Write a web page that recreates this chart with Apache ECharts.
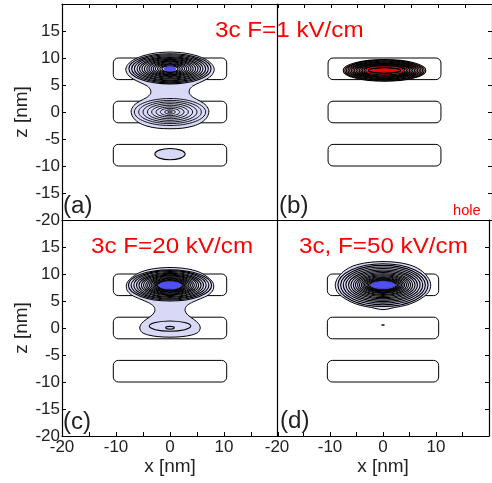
<!DOCTYPE html>
<html>
<head>
<meta charset="utf-8">
<script src="https://cdn.jsdelivr.net/npm/echarts@6/dist/echarts.min.js"></script>
<style>
html,body{margin:0;padding:0;background:#fff;}
#main{width:492px;height:483px;}
</style>
</head>
<body>
<div id="main"></div>
<script>
var FONT = '"Liberation Sans", Arial, Helvetica, sans-serif';

// 量子点 (x 范围, z 范围)
var dotX = [-10.5, 10.5];
var dotZ = [[6, 10], [-2, 2], [-10, -6]];

// 刻度标签
var xLabels = [-20, -10, 0, 10];
var zLabels = [15, 10, 5, 0, -5, -10, -15, -20];

var panelTitles = ['3c F=1 kV/cm', '3c F=20 kV/cm', '3c, F=50 kV/cm'];
var panelTags = ['(a)', '(b)', '(c)', '(d)'];

// 外层等值线 (右半边, 从上到下)
var envA = [[0,11.1],[2.8,10.9],[5.0,10.4],[6.7,9.7],[7.8,8.8],[8.2,7.9],[7.8,6.9],[6.8,6.1],[5.4,5.4],[4.2,4.8],[3.6,4.1],[3.6,3.4],[4.3,2.7],[5.6,2.0],[6.7,1.2],[7.2,0.2],[6.9,-0.9],[5.9,-1.9],[4.3,-2.6],[2.3,-3.0],[0,-3.1]];
var envC = [[0,11.2],[2.9,11.0],[5.3,10.4],[7.0,9.4],[8.0,8.3],[8.0,7.1],[7.1,6.1],[5.6,5.4],[4.0,4.7],[3.0,4.0],[2.8,3.2],[3.3,2.4],[4.4,1.6],[5.3,0.8],[5.6,0.0],[5.2,-0.8],[4.0,-1.3],[2.2,-1.6],[0,-1.7]];
var envD = [[0,12.3],[3.0,12.1],[5.6,11.5],[7.4,10.5],[8.6,9.2],[9.0,8.0],[8.7,6.8],[7.7,5.8],[6.2,4.9],[4.3,4.2],[2.2,3.8],[0.9,3.5],[0,3.4]];

// 内层等值线 (半轴 rx, rz)
var aTopRx = [7.6, 7.1, 6.6, 6.1, 5.65, 5.2, 4.75, 4.3, 3.9, 3.5, 3.1, 2.7, 2.3, 1.9, 1.5, 1.1];
var aTopRz = [2.8, 2.6, 2.42, 2.24, 2.07, 1.9, 1.74, 1.58, 1.43, 1.28, 1.13, 0.98, 0.84, 0.7, 0.55, 0.4];
var aMidRx = [6.6, 5.8, 5.0, 4.2, 3.4, 2.6, 1.8, 1.0, 0.45];
var aMidRz = [2.5, 2.15, 1.85, 1.55, 1.25, 0.95, 0.68, 0.4, 0.15];
var bRx = [7.7, 7.4, 7.1, 6.8, 6.5, 6.2, 5.9, 5.6, 5.3, 5.0, 4.7, 4.4, 4.1, 3.8, 3.5, 3.3, 3.0, 2.7, 2.4];
var bRz = [2.0, 1.9, 1.8, 1.7, 1.61, 1.52, 1.43, 1.34, 1.25, 1.16, 1.07, 0.98, 0.89, 0.8, 0.71, 0.58, 0.5, 0.42, 0.3];
var bKind = [2, 2, 2, 2, 2, 2, 2, 2, 2, 2, 2, 2, 2, 2, 2, 3, 2, 2, 4];
var cTopRx = [7.7, 7.2, 6.7, 6.2, 5.75, 5.3, 4.9, 4.5, 4.15, 3.8, 3.5, 3.2, 2.95, 2.7, 2.5, 2.3, 2.1];
var cTopRz = [2.9, 2.72, 2.55, 2.38, 2.22, 2.06, 1.9, 1.75, 1.6, 1.46, 1.32, 1.2, 1.08, 0.96, 0.86, 0.78, 0.7];
var dRx = [8.5, 8.0, 7.5, 7.0, 6.5, 6.05, 5.6, 5.2, 4.8, 4.45, 4.1, 3.8, 3.5, 3.25, 3.0, 2.75, 2.5, 2.25];
var dRz = [3.95, 3.65, 3.35, 3.07, 2.8, 2.55, 2.32, 2.1, 1.9, 1.72, 1.55, 1.4, 1.26, 1.13, 1.0, 0.88, 0.76, 0.65];

// 0 淡紫 1 蓝心 2 粉 3 红环 4 红心 5 黑点 6 淡紫细线
var ringStyles = [
    ['#d9d9f7', '#000', 1.1],
    ['#5050f6', '#3c3cd0', 0.8],
    ['#f3b3b3', '#000', 1.1],
    ['#f3b3b3', '#ff0000', 1.4],
    ['#ff0000', '#cc0000', 0.8],
    ['#000', '#000', 0.5],
    ['#d9d9f7', '#000', 0.9]
];

function rings(cx, cz, rxs, rzs, kind, lastKind) {
    var out = [];
    for (var i = 0; i < rxs.length; i++) {
        var k = Array.isArray(kind) ? kind[i] : (i === rxs.length - 1 ? lastKind : kind);
        out.push([cx, cz, rxs[i], rzs[i], k]);
    }
    return out;
}

var ringData = [
    rings(0, 8, aTopRx, aTopRz, 0, 1)
        .concat(rings(0, 0, aMidRx, aMidRz, 6, 6))
        .concat([[0, -7.8, 2.8, 1.05, 0]]),
    rings(0, 7.7, bRx, bRz, bKind),
    rings(0, 7.9, cTopRx, cTopRz, 0, 1)
        .concat([[0, 0.35, 3.85, 0.95, 0], [0, 0.05, 0.8, 0.25, 0]]),
    rings(0, 7.95, dRx, dRz, 0, 1).concat([[0, 0.55, 0.3, 0.1, 5]])
];
var envelopes = [envA, null, envC, envD];

function renderBox(params, api) {
    var p0 = api.coord([api.value(0), api.value(3)]);
    var p1 = api.coord([api.value(2), api.value(1)]);
    return {
        type: 'rect',
        shape: {x: p0[0], y: p0[1], width: p1[0] - p0[0], height: p1[1] - p0[1], r: 5},
        style: {fill: 'none', stroke: '#000', lineWidth: 1}
    };
}

function renderEnv(params, api) {
    var half = envelopes[api.value(2)];
    var pts = [];
    for (var i = 0; i < half.length; i++) pts.push(api.coord(half[i]));
    for (var j = half.length - 2; j > 0; j--) pts.push(api.coord([-half[j][0], half[j][1]]));
    return {
        type: 'polygon',
        shape: {points: pts, smooth: 0.3},
        style: {fill: ringStyles[0][0], stroke: '#000', lineWidth: 1}
    };
}

function renderRing(params, api) {
    var c = api.coord([api.value(0), api.value(1)]);
    var s = api.size([api.value(2), api.value(3)]);
    var st = ringStyles[api.value(4)];
    return {
        type: 'ellipse',
        shape: {cx: c[0], cy: c[1], rx: s[0], ry: s[1]},
        style: {fill: st[0], stroke: st[1], lineWidth: st[2]}
    };
}

function valAxis(gridIndex, position, ticks, labels, name) {
    var isX = position === 'top' || position === 'bottom';
    var ax = {
        type: 'value', gridIndex: gridIndex, position: position,
        min: -20, max: 20, interval: 5,
        splitLine: {show: false},
        axisLine: {show: true, onZero: false, lineStyle: {color: '#000', width: 1.2}},
        axisTick: {show: ticks, inside: true, length: 4, lineStyle: {color: '#000', width: 1}},
        axisLabel: {
            show: !!labels, color: '#222', fontSize: 17, fontFamily: FONT,
            margin: isX ? 3 : 2, hideOverlap: false, showMinLabel: true, showMaxLabel: true,
            formatter: function (v) { return labels && labels.indexOf(v) >= 0 ? String(v) : ''; }
        }
    };
    if (name) {
        ax.name = name;
        ax.nameLocation = 'middle';
        ax.nameGap = isX ? 17 : 26;
        ax.nameTextStyle = {color: '#222', fontSize: 19, fontFamily: FONT};
    }
    return ax;
}

var grids = [
    {left: 62, top: 4, width: 216, height: 216},
    {left: 277, top: 4, width: 216, height: 216},
    {left: 62, top: 220, width: 216, height: 216},
    {left: 277, top: 220, width: 216, height: 216}
];

var xAxes = [
    valAxis(0, 'bottom', false, null),
    valAxis(1, 'bottom', false, null),
    valAxis(2, 'bottom', true, xLabels, 'x [nm]'),
    valAxis(3, 'bottom', true, xLabels, 'x [nm]'),
    valAxis(0, 'top', true, null),
    valAxis(1, 'top', true, null)
];
var yAxes = [
    valAxis(0, 'left', true, zLabels, 'z [nm]'),
    valAxis(1, 'left', false, null),
    valAxis(2, 'left', true, zLabels, 'z [nm]'),
    valAxis(3, 'left', false, null),
    valAxis(1, 'right', true, null),
    valAxis(3, 'right', true, null)
];

var series = [];
for (var g = 0; g < 4; g++) {
    var boxes = dotZ.map(function (z) { return [dotX[0], z[0], dotX[1], z[1]]; });
    series.push({type: 'custom', xAxisIndex: g, yAxisIndex: g, z: 2, silent: true,
        renderItem: renderBox, data: boxes});
    if (envelopes[g]) {
        series.push({type: 'custom', xAxisIndex: g, yAxisIndex: g, z: 3, silent: true,
            renderItem: renderEnv, data: [[0, 0, g]]});
    }
    series.push({type: 'custom', xAxisIndex: g, yAxisIndex: g, z: 4, silent: true,
        renderItem: renderRing, data: ringData[g]});
}

function label(x, y, text, color, size, sx) {
    return {type: 'text', x: x, y: y, z: 100, scaleX: sx || 1,
        style: {text: text, fill: color, font: size + 'px ' + FONT, align: 'left', verticalAlign: 'middle'}};
}

var chart = echarts.init(document.getElementById('main'));
chart.setOption({
    animation: false,
    grid: grids,
    xAxis: xAxes,
    yAxis: yAxes,
    series: series,
    graphic: [
        label(215, 31, panelTitles[0], '#ff0000', 22, 1.1),
        label(91, 247, panelTitles[1], '#ff0000', 22, 1.1),
        label(299, 247, panelTitles[2], '#ff0000', 22, 1.1),
        label(453, 211, 'hole', '#ff0000', 14, 1.05),
        label(63, 207, panelTags[0], '#222', 23, 1.05),
        label(279, 207, panelTags[1], '#222', 23, 1.05),
        label(63, 423, panelTags[2], '#222', 23, 1.05),
        label(280, 422, panelTags[3], '#222', 23, 1.05)
    ]
});

window.onresize = function () {
    chart.resize();
};
</script>
</body>
</html>
